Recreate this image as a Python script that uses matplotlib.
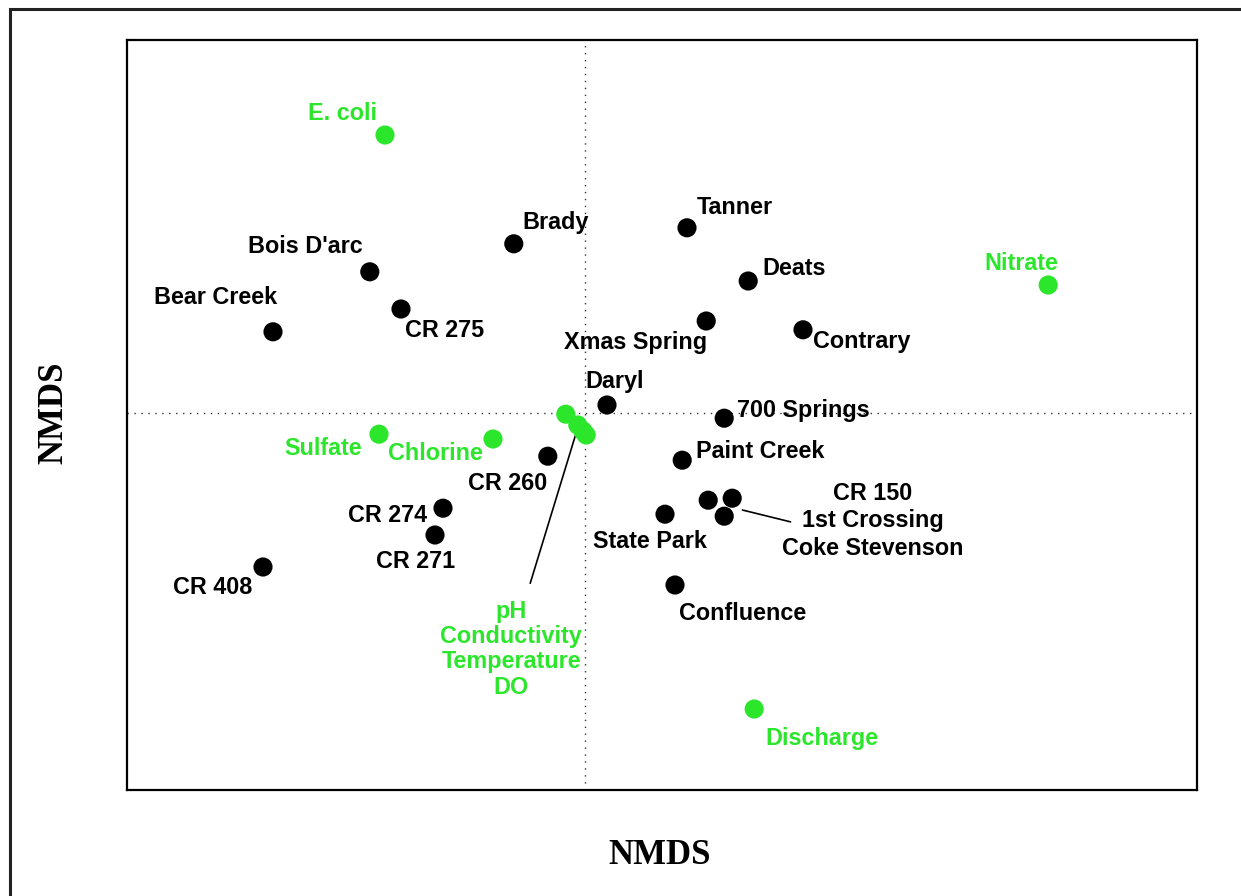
import numpy as np
import matplotlib
matplotlib.use("Agg")
import matplotlib.pyplot as plt
from matplotlib.patches import Rectangle

# ---- data (NMDS scores, arbitrary units) ----
site_names = ["Bear Creek", "Bois D'arc", "CR 275", "Brady", "Tanner", "Deats",
              "Xmas Spring", "Contrary", "Daryl", "700 Springs", "Paint Creek",
              "CR 260", "CR 274", "CR 271", "CR 408", "State Park",
              "CR 150", "1st Crossing", "Coke Stevenson", "Confluence"]
site_x = [-0.780, -0.538, -0.460, -0.178, 0.255, 0.408,
          0.303, 0.545, 0.055, 0.348, 0.243,
          -0.093, -0.355, -0.375, -0.805, 0.200,
          0.368, 0.308, 0.348, 0.225]
site_y = [0.203, 0.353, 0.260, 0.423, 0.463, 0.330,
          0.230, 0.208, 0.020, -0.013, -0.118,
          -0.108, -0.238, -0.305, -0.385, -0.253,
          -0.213, -0.218, -0.258, -0.430]

var_names = ["E. coli", "Nitrate", "Sulfate", "Chlorine",
             "pH", "Conductivity", "Temperature", "DO", "Discharge"]
var_x = [-0.500, 1.158, -0.515, -0.230, -0.048, -0.018, -0.005, 0.003, 0.423]
var_y = [0.695, 0.320, -0.053, -0.065, -0.003, -0.030, -0.045, -0.055, -0.740]

xlim = (-1.145, 1.530)
ylim = (-0.9425, 0.9325)

GREEN = "#2be62b"
DPI = 100
fig = plt.figure(figsize=(12.41, 8.96), dpi=DPI)
fig.patches.append(Rectangle((10 / 1241, -0.05), 1.2, 1 - 9 / 896 + 0.05,
                             transform=fig.transFigure, fill=False,
                             edgecolor="#222222", linewidth=2.2, zorder=0))
ax = fig.add_axes([127 / 1241, 1 - 790 / 896, 1070 / 1241, 750 / 896])
ax.set_xlim(*xlim)
ax.set_ylim(*ylim)
ax.set_xticks([])
ax.set_yticks([])
for sp in ax.spines.values():
    sp.set_linewidth(1.6)
    sp.set_color("black")

ax.axvline(0, color="#333333", linestyle=(0, (1, 4)), linewidth=1.0, zorder=1)
ax.axhline(0, color="#333333", linestyle=(0, (1, 4)), linewidth=1.0, zorder=1)

ax.scatter(var_x, var_y, s=190, color=GREEN, edgecolors="none", zorder=3)
ax.scatter(site_x, site_y, s=190, color="black", edgecolors="none", zorder=4)

font = dict(family="Liberation Sans", weight="bold", fontsize=16.8)

# label placement (offset in pixels, ha)
site_lab = {
    "Bear Creek": (4, 34, "right"), "Bois D'arc": (-7, 25, "right"),
    "CR 275": (4, -21, "left"), "Brady": (9, 21, "left"),
    "Tanner": (10, 20, "left"), "Deats": (14, 13, "left"),
    "Xmas Spring": (1, -21, "right"), "Contrary": (10, -12, "left"),
    "Daryl": (-22, 24, "left"), "700 Springs": (13, 8, "left"),
    "Paint Creek": (14, 9, "left"), "CR 260": (-1, -27, "right"),
    "CR 274": (-16, -7, "right"), "CR 271": (-19, -27, "center"),
    "CR 408": (-11, -20, "right"), "State Park": (-15, -27, "center"),
    "Confluence": (4, -28, "left"),
}
for n, x, y in zip(site_names, site_x, site_y):
    if n in site_lab:
        dx, dy, ha = site_lab[n]
        ax.annotate(n, (x, y), xytext=(dx, dy), textcoords="offset pixels",
                    ha=ha, va="center", color="black", **font)

var_lab = {
    "E. coli": (-8, 22, "right"), "Nitrate": (10, 22, "right"),
    "Sulfate": (-17, -14, "right"), "Chlorine": (-10, -14, "right"),
    "Discharge": (11, -29, "left"),
}
for n, x, y in zip(var_names, var_x, var_y):
    if n in var_lab:
        dx, dy, ha = var_lab[n]
        ax.annotate(n, (x, y), xytext=(dx, dy), textcoords="offset pixels",
                    ha=ha, va="center", color=GREEN, **font)

# grouped labels with leader lines
grp_sites = ["CR 150", "1st Crossing", "Coke Stevenson"]
gi = [site_names.index(n) for n in grp_sites]
gx, gy = np.mean(np.array(site_x)[gi]), np.mean(np.array(site_y)[gi])
ax.annotate("", (gx, gy), xytext=(69, -17), textcoords="offset pixels",
            arrowprops=dict(arrowstyle="-", color="black", lw=1.2,
                            shrinkA=0, shrinkB=15.5), zorder=2)
ax.annotate("\n".join(grp_sites), (gx, gy), xytext=(151, -16),
            textcoords="offset pixels", ha="center", va="center",
            multialignment="center", linespacing=1.24, color="black", **font)

grp_vars = ["pH", "Conductivity", "Temperature", "DO"]
vi = [var_names.index(n) for n in grp_vars]
vx, vy = np.mean(np.array(var_x)[vi]), np.mean(np.array(var_y)[vi])
ax.annotate("", (vx, vy), xytext=(-48, -157), textcoords="offset pixels",
            arrowprops=dict(arrowstyle="-", color="black", lw=1.2,
                            shrinkA=0, shrinkB=5.3), zorder=2)
ax.annotate("\n".join(grp_vars), (vx, vy), xytext=(-67, -223),
            textcoords="offset pixels", ha="center", va="center",
            multialignment="center", linespacing=1.13, color=GREEN, **font)

lab_font = dict(family="Liberation Serif", weight="bold", fontsize=25)
fig.text(660 / 1241, 1 - 855 / 896, "NMDS", ha="center", va="center", **lab_font)
fig.text(54 / 1241, 1 - 413 / 896, "NMDS", ha="center", va="center",
         rotation=90, **lab_font)

fig.savefig("out.png", dpi=DPI)
